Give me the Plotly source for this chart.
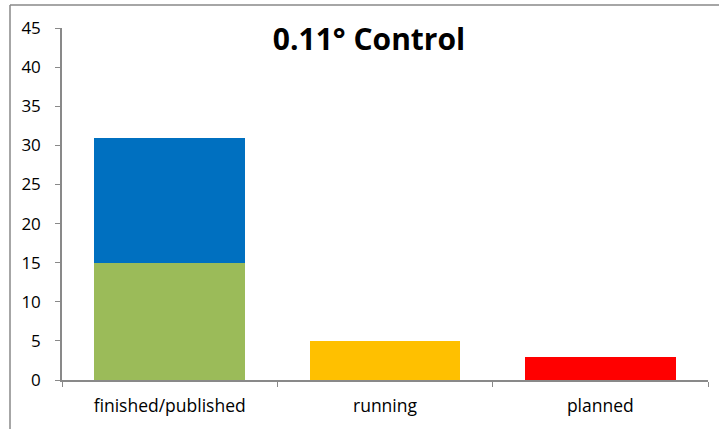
import plotly.graph_objects as go

# Project status counts
categories = ["finished/published", "running", "planned"]
finished_part_a = [15, 0, 0]   # green segment
finished_part_b = [16, 0, 0]   # blue segment on top
running = [0, 5, 0]
planned = [0, 0, 3]
y_ticks = [0, 5, 10, 15, 20, 25, 30, 35, 40, 45]

FONT = "Open Sans"
AXIS_GREY = "#898989"

fig = go.Figure()
fig.add_trace(go.Bar(x=categories, y=finished_part_a, marker_color="#9BBB59", marker_line_width=0))
fig.add_trace(go.Bar(x=categories, y=finished_part_b, marker_color="#0070C0", marker_line_width=0))
fig.add_trace(go.Bar(x=categories, y=running, marker_color="#FFC000", marker_line_width=0))
fig.add_trace(go.Bar(x=categories, y=planned, marker_color="#FF0000", marker_line_width=0))

fig.update_layout(
    width=719, height=429,
    margin=dict(l=62, r=11, t=28, b=49),
    barmode="stack",
    bargap=0.3,
    showlegend=False,
    plot_bgcolor="white",
    paper_bgcolor="white",
    font=dict(family=FONT, size=17, color="#000000"),
    title=dict(
        text="<b>0.11° Control</b>",
        x=369 / 719, xanchor="center",
        y=1 - 39 / 429, yanchor="middle",
        font=dict(family=FONT, size=30, color="#000000"),
    ),
    xaxis=dict(
        type="category",
        tickson="boundaries",
        ticks="outside", ticklen=5, tickcolor=AXIS_GREY, tickwidth=1,
        showline=True, linecolor=AXIS_GREY, linewidth=1.5,
        showgrid=False, zeroline=False,
        ticklabelstandoff=9,
        tickfont=dict(family=FONT, size=17.5),
    ),
    yaxis=dict(
        range=[0, 45],
        tickvals=y_ticks,
        ticks="outside", ticklen=5, tickcolor=AXIS_GREY, tickwidth=1,
        showline=True, linecolor=AXIS_GREY, linewidth=1.5,
        showgrid=False, zeroline=False,
        ticklabelstandoff=11,
        tickfont=dict(family=FONT, size=17),
    ),
)

# Chart frame (top and left edges)
fig.add_shape(type="line", xref="paper", yref="paper",
              x0=(10 - 62) / 646, x1=1.2, y0=1 + 23 / 352, y1=1 + 23 / 352,
              line=dict(color=AXIS_GREY, width=1.5))
fig.add_shape(type="line", xref="paper", yref="paper",
              x0=(10 - 62) / 646, x1=(10 - 62) / 646, y0=1 + 23 / 352, y1=-0.3,
              line=dict(color=AXIS_GREY, width=1.5))

fig.write_html("out.html")
